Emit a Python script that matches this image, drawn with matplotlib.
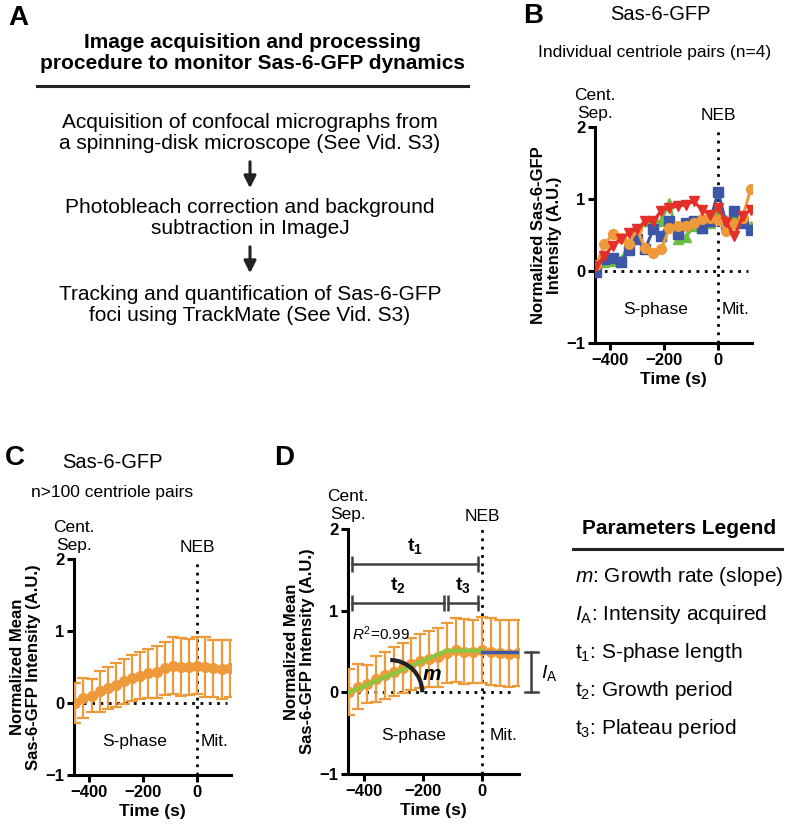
import matplotlib
matplotlib.use("Agg")
from matplotlib import pyplot as plt
from matplotlib.lines import Line2D
from matplotlib.patches import FancyArrowPatch, Arc

plt.rcParams['font.family'] = ['Liberation Sans', 'DejaVu Sans']
plt.rcParams['mathtext.fontset'] = 'custom'
plt.rcParams['mathtext.rm'] = 'Liberation Sans'
plt.rcParams['mathtext.it'] = 'Liberation Sans:italic'
plt.rcParams['mathtext.bf'] = 'Liberation Sans:bold'

## data
time = [-450, -420, -390, -360, -330, -300, -270, -240, -210, -180,
        -150, -120, -90, -60, -30, 0, 30, 60, 90, 120]

# panel B, individual centriole pairs
pair_blue = [-0.02, 0.16, 0.18, 0.12, 0.29, 0.45, 0.30, 0.58, 0.48, 0.70,
             0.51, 0.66, 0.69, 0.60, 0.69, 1.10, 0.65, 0.83, 0.66, 0.57]
pair_green = [0.00, 0.12, 0.14, 0.15, 0.37, 0.50, 0.69, 0.67, 0.70, 0.95,
              0.44, 0.47, 0.62, 0.60, 0.67, 0.83, 0.71, 0.75, 0.69, 0.63]
pair_orange = [0.09, 0.37, 0.51, 0.46, 0.37, 0.58, 0.32, 0.25, 0.31, 0.60,
               0.62, 0.62, 0.67, 0.72, 0.74, 0.71, 0.55, 0.65, 0.74, 1.14]
pair_red = [0.07, 0.21, 0.35, 0.44, 0.53, 0.58, 0.69, 0.69, 0.84, 0.88,
            0.90, 0.92, 0.97, 0.85, 0.78, 0.88, 0.68, 0.48, 0.76, 0.85]

# panel C / D, mean of n>100 pairs
mean_int = [0.00, 0.07, 0.10, 0.16, 0.21, 0.25, 0.30, 0.35, 0.38, 0.41,
            0.43, 0.48, 0.52, 0.50, 0.50, 0.52, 0.50, 0.48, 0.47, 0.48]
err_int = [0.28, 0.28, 0.23, 0.28, 0.29, 0.30, 0.31, 0.32, 0.33, 0.34,
           0.36, 0.37, 0.39, 0.40, 0.39, 0.40, 0.41, 0.40, 0.41, 0.40]

# panel D fit
fit_t = [-450, -120, 0]
fit_y = [0.0, 0.51, 0.51]
mit_t = [0, 120]
mit_y = [0.49, 0.49]

# panel D brackets (start, end, level)
br_t1 = (-440, -15, 1.57)
br_t2 = (-440, -130, 1.09)
br_t3 = (-115, -15, 1.09)

legend_items = [r'$m$: Growth rate (slope)', r'$I_\mathrm{A}$: Intensity acquired',
                r't$_1$: S-phase length', r't$_2$: Growth period', r't$_3$: Plateau period']

steps = ['Acquisition of confocal micrographs from\na spinning-disk microscope (See Vid. S3)',
         'Photobleach correction and background\nsubtraction in ImageJ',
         'Tracking and quantification of Sas-6-GFP\nfoci using TrackMate (See Vid. S3)']

c_orange = '#EE9A3A'
c_blue = '#3D56A6'
c_green = '#6DBE45'
c_red = '#E5302A'
c_fit = '#8CC63F'
c_dark = '#404040'

W, H = 785, 834
fig = plt.figure(figsize=(W / 100, H / 100), dpi=100)


def fx(x):
    return x / W


def fy(y):
    return 1 - y / H


def ax_px(l, t, r, b):
    return fig.add_axes([fx(l), fy(b), (r - l) / W, (b - t) / H])


def style(ax, ylab, mit_x):
    ax.set_xlim(-455, 125)
    ax.set_ylim(-1, 2)
    ax.spines['top'].set_visible(False)
    ax.spines['right'].set_visible(False)
    ax.spines['left'].set_linewidth(2.2)
    ax.spines['bottom'].set_linewidth(2.2)
    ax.tick_params(width=2.2, length=5, labelsize=12, pad=2)
    ax.set_xticks([-400, -200, 0])
    ax.set_yticks([-1, 0, 1, 2])
    for lab in ax.get_xticklabels() + ax.get_yticklabels():
        lab.set_fontweight('bold')
    ax.plot([-450, 112], [0, 0], color='k', lw=2, ls=(0, (1, 2)), zorder=1)
    ax.plot([0, 0], [-1, 2], color='k', lw=2, ls=(0, (1, 2)), zorder=1, clip_on=False)
    ax.text(0, 2.06, 'NEB', ha='center', va='bottom', fontsize=12.5)
    ax.text(-455, 2.09, 'Cent.\nSep.', ha='center', va='bottom', fontsize=12.5, linespacing=1.2)
    ax.text(-232, -0.53, 'S-phase', ha='center', va='center', fontsize=12.5)
    ax.text(mit_x, -0.53, 'Mit.', ha='left', va='center', fontsize=12.5)
    ax.set_xlabel('Time (s)', fontweight='bold', fontsize=12.5, labelpad=3)
    ax.set_ylabel(ylab, fontweight='bold', fontsize=12, labelpad=3, linespacing=1.1)


## panel A
fig.text(fx(18), fy(18), 'A', fontsize=20, fontweight='bold', ha='center', va='center')
fig.text(fx(252), fy(53), 'Image acquisition and processing\nprocedure to monitor Sas-6-GFP dynamics',
         ha='center', va='center', fontsize=15, fontweight='bold', linespacing=1.15)
fig.add_artist(Line2D([fx(37), fx(468)], [fy(86), fy(86)], lw=2.2, color='#222222'))
for s, yc in zip(steps, [133, 218, 305]):
    fig.text(fx(250), fy(yc), s, ha='center', va='center', fontsize=15, linespacing=1.15)
for y0, y1 in [(159, 191), (244, 276)]:
    fig.add_artist(FancyArrowPatch((fx(250), fy(y0)), (fx(250), fy(y1)), transform=fig.transFigure,
                                   arrowstyle='-|>', mutation_scale=18, lw=2.2, color='#222222'))

## panel B
fig.text(fx(533), fy(16), 'B', fontsize=20, fontweight='bold', ha='center', va='center')
fig.text(fx(660), fy(15), 'Sas-6-GFP', fontsize=14.5, ha='center', va='center')
fig.text(fx(655), fy(52), 'Individual centriole pairs (n=4)', fontsize=12.5, ha='center', va='center')
axB = ax_px(595, 127, 752, 343)
style(axB, 'Normalized Sas-6-GFP\nIntensity (A.U.)', 14)
axB.plot(time, pair_green, color=c_green, lw=2.2, marker='^', ms=7, zorder=3)
axB.plot(time, pair_blue, color=c_blue, lw=2.2, marker='s', ms=6.5, zorder=3)
axB.plot(time, pair_orange, color=c_orange, lw=2.2, marker='o', ms=7, zorder=3)
axB.plot(time, pair_red, color=c_red, lw=2.2, marker='v', ms=7, zorder=3)

## panel C
fig.text(fx(15), fy(458), 'C', fontsize=20, fontweight='bold', ha='center', va='center')
fig.text(fx(112), fy(462), 'Sas-6-GFP', fontsize=14.5, ha='center', va='center')
fig.text(fx(112), fy(492), 'n>100 centriole pairs', fontsize=12.5, ha='center', va='center')
axC = ax_px(74, 559, 231, 775)
style(axC, 'Normalized Mean\nSas-6-GFP Intensity (A.U.)', 14)
axC.errorbar(time, mean_int, yerr=err_int, color=c_orange, lw=1.6, marker='o', ms=7,
             capsize=4, capthick=1.6, elinewidth=1.6, zorder=3)

## panel D
fig.text(fx(284), fy(458), 'D', fontsize=20, fontweight='bold', ha='center', va='center')
axD = ax_px(348, 529, 519, 774)
style(axD, 'Normalized Mean\nSas-6-GFP Intensity (A.U.)', 25)
axD.errorbar(time, mean_int, yerr=err_int, color=c_orange, lw=1.6, marker='o', ms=7,
             capsize=4, capthick=1.6, elinewidth=1.6, zorder=3)
axD.plot(fit_t, fit_y, color=c_fit, lw=3, zorder=4)
axD.plot(mit_t, mit_y, color=c_blue, lw=2.5, zorder=4)
axD.add_patch(Arc((-312, 0), 218, 0.79, theta1=0, theta2=56, color='#222222', lw=3, zorder=5))
axD.text(-172, 0.22, 'm', fontsize=15, fontweight='bold', style='italic', ha='center', va='center')
axD.text(-440, 0.72, r'$R^2$=0.99', fontsize=11, ha='left', va='center')
for (a, b, lvl), lab in zip([br_t1, br_t2, br_t3], ['1', '2', '3']):
    axD.plot([a, b], [lvl, lvl], color=c_dark, lw=1.8, marker='|', ms=11, mew=1.8, zorder=4)
    axD.text((a + b) / 2, lvl + 0.1, r'$\mathbf{t_%s}$' % lab, fontsize=14, ha='center', va='bottom')
axD.plot([166, 166], [0, 0.49], color=c_dark, lw=1.8, clip_on=False)
axD.plot([144, 188], [0, 0], color=c_dark, lw=1.8, clip_on=False)
axD.plot([144, 188], [0.49, 0.49], color=c_dark, lw=1.8, clip_on=False)
axD.text(200, 0.24, r'$I_\mathrm{A}$', fontsize=14, ha='left', va='center')

## parameters legend
fig.text(fx(679), fy(528), 'Parameters Legend', fontsize=15, fontweight='bold', ha='center', va='center')
fig.add_artist(Line2D([fx(573), fx(782)], [fy(549), fy(549)], lw=2.2, color='#222222'))
for i, item in enumerate(legend_items):
    fig.text(fx(575), fy(576 + 38 * i), item, fontsize=15, ha='left', va='center')

fig.savefig('out.png', dpi=100)
